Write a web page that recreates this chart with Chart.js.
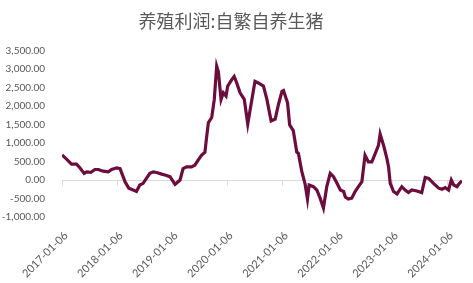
<!DOCTYPE html>
<html>
<head>
<meta charset="utf-8">
<style>
  html, body { margin: 0; padding: 0; background: #fff; }
  #wrap { width: 473px; height: 283px; }
</style>
</head>
<body>
<div id="wrap"><canvas id="myChart"></canvas></div>

<script src="https://cdn.jsdelivr.net/npm/chart.js"></script>

<script>
  const title = '养殖利润:自繁自养生猪';

  const dates = [
    '2017-01-06', '2017-02-07', '2017-03-10', '2017-04-12', '2017-05-03', '2017-06-02', '2017-06-18', '2017-07-16',
    '2017-08-12', '2017-09-04', '2017-10-06', '2017-11-09', '2017-12-01', '2018-01-04', '2018-01-26', '2018-02-28',
    '2018-03-25', '2018-04-23', '2018-05-15', '2018-06-06', '2018-06-28', '2018-07-20', '2018-08-12', '2018-09-04',
    '2018-09-26', '2018-10-29', '2018-11-20', '2018-12-23', '2019-01-26', '2019-02-28', '2019-03-20', '2019-04-12',
    '2019-05-15', '2019-06-06', '2019-06-28', '2019-07-20', '2019-08-12', '2019-08-23', '2019-09-04', '2019-09-26',
    '2019-10-13', '2019-10-29', '2019-11-09', '2019-11-27', '2019-12-12', '2019-12-30', '2020-01-10', '2020-02-06',
    '2020-02-22', '2020-03-10', '2020-04-01', '2020-04-29', '2020-05-22', '2020-06-13', '2020-07-09', '2020-07-31',
    '2020-09-03', '2020-09-26', '2020-10-24', '2020-11-20', '2020-12-12', '2021-01-04', '2021-01-14', '2021-02-10',
    '2021-02-24', '2021-03-20', '2021-04-12', '2021-04-23', '2021-05-15', '2021-06-06', '2021-06-22', '2021-07-03',
    '2021-07-31', '2021-08-23', '2021-09-14', '2021-10-06', '2021-10-28', '2021-11-20', '2021-12-12', '2022-01-04',
    '2022-01-26', '2022-02-17', '2022-02-28', '2022-03-20', '2022-04-12', '2022-05-04', '2022-05-26', '2022-06-18',
    '2022-07-09', '2022-07-31', '2022-08-23', '2022-09-14', '2022-10-06', '2022-10-17', '2022-11-09', '2022-12-01',
    '2022-12-12', '2022-12-23', '2023-01-14', '2023-02-06', '2023-03-10', '2023-04-01', '2023-04-23', '2023-05-15',
    '2023-06-18', '2023-07-20', '2023-08-12', '2023-09-04', '2023-10-06', '2023-11-09', '2023-12-01', '2023-12-23',
    '2024-01-14', '2024-02-01', '2024-02-17', '2024-03-10', '2024-03-26', '2024-04-12'
  ];

  const profit = [
    680, 560, 430, 430, 340, 180, 220, 205,
    285, 285, 240, 220, 285, 330, 310, -45,
    -220, -270, -310, -135, -90, 45, 180, 220,
    205, 160, 135, 90, -115, 0, 310, 355,
    355, 400, 535, 670, 755, 1155, 1555, 1690,
    2180, 3080, 2935, 2180, 2360, 2270, 2540, 2715,
    2800, 2625, 2360, 2180, 1515, 2050, 2670, 2625,
    2540, 2180, 1600, 1650, 2050, 2400, 2420, 2090,
    1490, 1335, 755, 720, 240, -100, -515, -135,
    -180, -270, -490, -755, -180, 180, 90, -90,
    -270, -310, -460, -515, -490, -310, -180, -45,
    670, 490, 490, 710, 935, 1245, 935, 580,
    355, -90, -310, -375, -180, -270, -340, -270,
    -295, -340, 70, 45, -90, -220, -250, -205,
    -270, 0, -135, -180, -90, -20
  ];

  const xTickLabels = ['2017-01-06', '2018-01-06', '2019-01-06', '2020-01-06', '2021-01-06', '2022-01-06', '2023-01-06', '2024-01-06'];
  const yMin = -1000, yMax = 3500, yStep = 500;

  const toTime = s => Date.parse(s + 'T00:00:00Z');
  const points = dates.map((d, i) => ({ x: toTime(d), y: profit[i] }));
  const tickTimes = xTickLabels.map(toTime);

  // zero line with small downward tick marks, like the excel category axis
  const zeroAxis = {
    id: 'zeroAxis',
    beforeDatasetsDraw(chart) {
      const { ctx, chartArea, scales } = chart;
      const y0 = Math.round(scales.y.getPixelForValue(0)) + 0.5;
      ctx.save();
      ctx.strokeStyle = '#d9d9d9';
      ctx.lineWidth = 1;
      ctx.beginPath();
      ctx.moveTo(chartArea.left, y0);
      ctx.lineTo(chartArea.right, y0);
      tickTimes.forEach(t => {
        const x = Math.round(scales.x.getPixelForValue(t)) + 0.5;
        ctx.moveTo(x, y0);
        ctx.lineTo(x, y0 + 5);
      });
      ctx.stroke();
      ctx.restore();
    }
  };

  const ctx = document.getElementById('myChart');
  new Chart(ctx, {
    type: 'line',
    data: {
      datasets: [{
        label: title,
        data: points,
        borderColor: '#6b0d3d',
        borderWidth: 3.2,
        pointRadius: 0,
        tension: 0,
        fill: false
      }]
    },
    options: {
      responsive: true,
      maintainAspectRatio: false,
      animation: false,
      layout: { padding: { left: 0, right: 11, top: 0, bottom: 5 } },
      plugins: {
        legend: { display: false },
        tooltip: { enabled: false },
        title: {
          display: true,
          text: title,
          color: '#595959',
          font: { family: '"Noto Sans CJK SC"', size: 18, weight: 'normal' },
          padding: { top: 10, bottom: 19 }
        }
      },
      scales: {
        x: {
          type: 'linear',
          min: toTime(dates[0]),
          max: toTime(dates[dates.length - 1]),
          grid: { display: false },
          border: { display: false },
          afterBuildTicks: scale => { scale.ticks = tickTimes.map(v => ({ value: v })); },
          afterFit: scale => { scale.height = 61; },
          ticks: {
            minRotation: 45,
            maxRotation: 45,
            autoSkip: false,
            padding: 4,
            labelOffset: 4,
            color: '#595959',
            font: { family: 'Lato', size: 11 },
            callback: value => xTickLabels[tickTimes.indexOf(value)]
          }
        },
        y: {
          min: yMin,
          max: yMax,
          grid: { display: false },
          border: { display: false },
          afterFit: scale => { scale.width = 62; },
          ticks: {
            stepSize: yStep,
            padding: 9,
            color: '#595959',
            font: { family: 'Lato', size: 10 },
            callback: v => v.toLocaleString('en-US', { minimumFractionDigits: 2, maximumFractionDigits: 2 })
          }
        }
      }
    },
    plugins: [zeroAxis]
  });
</script>
</body>
</html>
